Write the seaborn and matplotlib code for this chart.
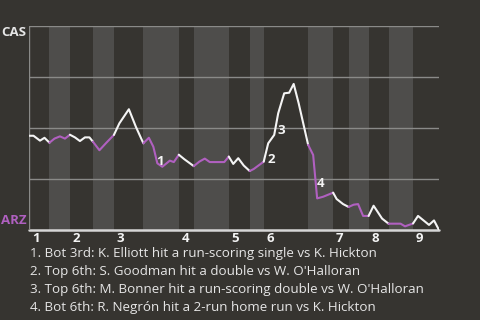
import matplotlib
matplotlib.use("Agg")
import matplotlib.pyplot as plt
import seaborn as sns
import pandas as pd
import numpy as np

# ---- data ----
# play progress (approx. plate-appearance index) and CAS win probability (%)
play_x = [0.0, 0.9, 2.2, 3.1, 4.1, 5.1, 6.2, 7.2, 8.2, 9.2, 10.2, 11.2, 12.1, 12.8,
          14.1, 15.5, 17.0, 18.1, 20.0, 21.4, 22.9, 24.0, 24.9, 25.7, 26.7, 28.2,
          29.0, 30.0, 31.1, 33.0, 34.1, 35.2, 36.2, 39.1, 40.0, 40.9, 41.9, 43.0,
          44.2, 45.0, 47.0, 47.9, 49.1, 49.9, 51.1, 52.1, 53.0, 54.0, 55.9, 56.9,
          57.7, 58.9, 60.9, 61.6, 62.9, 64.0, 65.0, 65.9, 66.9, 68.0, 69.0, 70.7,
          72.0, 74.4, 75.3, 76.9, 77.9, 79.0, 80.1, 81.1, 82.1]
cas_win = [46.2, 46.2, 43.8, 45.2, 42.8, 44.8, 45.9, 44.8, 46.7, 45.4, 43.6, 45.4, 45.4, 43.3,
           39.1, 42.8, 46.6, 52.3, 59.2, 50.6, 42.5, 45.2, 40.8, 32.7, 31.0, 34.0,
           33.3, 36.9, 34.7, 31.3, 33.5, 35.0, 33.3, 33.3, 36.0, 32.4, 35.2, 31.6,
           28.9, 29.9, 33.5, 42.5, 46.6, 57.2, 67.0, 67.3, 71.6, 62.1, 41.7, 36.8,
           15.5, 16.3, 18.3, 15.2, 12.7, 11.3, 12.4, 12.7, 6.9, 6.9, 11.9, 5.6,
           3.1, 3.1, 1.8, 3.2, 6.9, 4.7, 2.5, 4.7, 0.0]
# half-inning boundaries (play progress): start of each half inning, plus the end
half_starts = [0.0, 4.1, 8.2, 12.8, 17.0, 22.9, 30.0, 33.0, 40.0, 44.2, 47.0,
               55.9, 60.9, 64.0, 68.0, 72.0, 76.9, 82.1]
innings = ["1", "2", "3", "4", "5", "6", "7", "8", "9"]
# key events: index of the play segment start and label
event_seg = [22, 40, 42, 49]
event_labels = ["1", "2", "3", "4"]
notes = [
    "1. Bot 3rd: K. Elliott hit a run-scoring single vs K. Hickton",
    "2. Top 6th: S. Goodman hit a double vs W. O'Halloran",
    "3. Top 6th: M. Bonner hit a run-scoring double vs W. O'Halloran",
    "4. Bot 6th: R. Negrón hit a 2-run home run vs K. Hickton",
]
teams = ["CAS", "ARZ"]

# ---- style ----
BG = "#363430"
BAND = "#4e4d4b"
PURPLE = "#b060c0"
WHITE = "#f4f4f4"
GRID = "#8a8a88"
TXT = "#e6e6e6"

sns.set_theme(style="dark")
plt.rcParams["font.family"] = ["Open Sans", "DejaVu Sans"]

fig = plt.figure(figsize=(4.8, 3.2), dpi=100, facecolor=BG)
ax = fig.add_axes([29 / 480, 1 - 230 / 320, 410 / 480, 204 / 320])
ax.set_facecolor(BG)

xmax = play_x[-1]
ax.set_xlim(0, xmax)
ax.set_ylim(0, 100)

# bottom-half bands
for i in range(1, len(half_starts) - 1, 2):
    ax.axvspan(half_starts[i], half_starts[i + 1], color=BAND, lw=0, zorder=0)

# grid lines
for g in [25, 50, 75, 100]:
    ax.axhline(g, color=GRID, lw=1.0, zorder=1)
ax.axhline(0, color="#d6d6d6", lw=1.8, zorder=1, clip_on=False)
ax.axvline(0, color=GRID, lw=1.0, zorder=1)

for s in ax.spines.values():
    s.set_visible(False)
ax.set_xticks([])
ax.set_yticks([])


def is_bottom(xm):
    for i in range(len(half_starts) - 1):
        if half_starts[i] <= xm < half_starts[i + 1]:
            return i % 2 == 1
    return False


# split the line into colour runs
runs = []
cur = [0]
cur_b = is_bottom((play_x[0] + play_x[1]) / 2)
for k in range(1, len(play_x)):
    b = is_bottom((play_x[k - 1] + play_x[k]) / 2)
    if b != cur_b:
        runs.append((cur, cur_b))
        cur = [k - 1]
        cur_b = b
    cur.append(k)
runs.append((cur, cur_b))

for idx, b in runs:
    df = pd.DataFrame({"x": [play_x[i] for i in idx], "p": [cas_win[i] for i in idx]})
    sns.lineplot(data=df, x="x", y="p", ax=ax, color=PURPLE if b else WHITE,
                 lw=1.5, sort=False, estimator=None, legend=False, zorder=3)
ax.set_xlabel("")
ax.set_ylabel("")

# event labels
for k, lab in zip(event_seg, event_labels):
    xm = (play_x[k] + play_x[k + 1]) / 2
    ym = (cas_win[k] + cas_win[k + 1]) / 2
    ax.annotate(lab, (xm, ym), xytext=(3.6, -4.7), textcoords="offset points",
                ha="center", va="center", color=WHITE, fontsize=9.5,
                fontweight="bold", zorder=4)

# inning labels
inning_starts = half_starts[0:-1:2]
for xs, lab in zip(inning_starts, innings):
    ax.annotate(lab, (xs, 0), xytext=(2.0, -6.3), textcoords="offset points",
                ha="left", va="center", color=WHITE, fontsize=9.5,
                fontweight="bold", annotation_clip=False)

# team labels
fig.text(14 / 480, 1 - 33 / 320, teams[0], ha="center", va="center",
         color=TXT, fontsize=9.5, fontweight="bold")
fig.text(14 / 480, 1 - 221 / 320, teams[1], ha="center", va="center",
         color=PURPLE, fontsize=9.5, fontweight="bold")

# notes
for i, n in enumerate(notes):
    fig.text(30 / 480, 1 - (254 + 18 * i) / 320, n, ha="left", va="center",
             color=TXT, fontsize=9.6)

fig.savefig("out.png", dpi=100, facecolor=BG)
